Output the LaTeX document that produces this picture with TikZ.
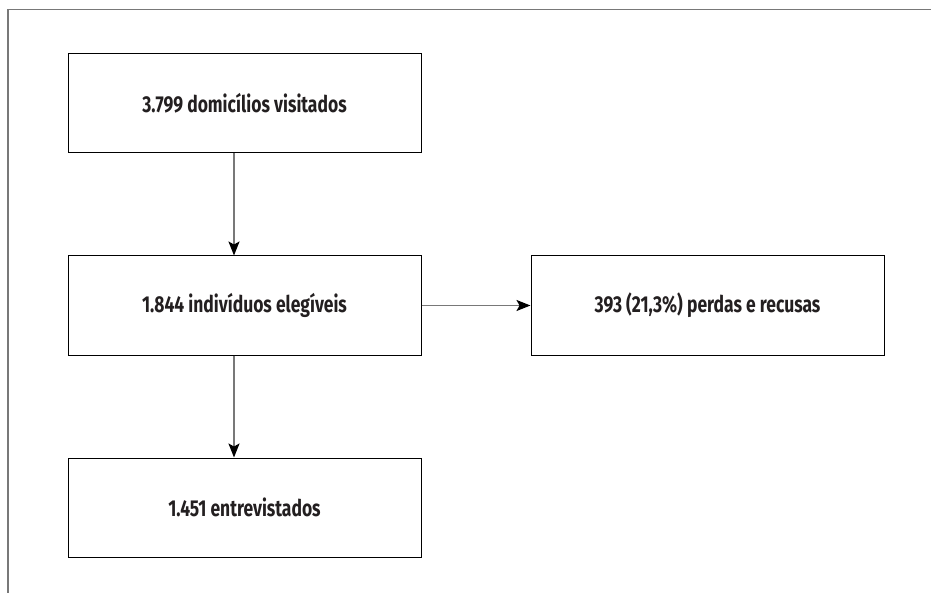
\documentclass[tikz,border=0pt]{standalone}
\usepackage{fontspec}
\setmainfont{Fira Sans}[FakeStretch=0.76]
\usepackage{tikz}
\usetikzlibrary{arrows.meta, positioning}
\definecolor{framegray}{RGB}{120,120,120}
\definecolor{textdark}{RGB}{35,31,32}

\begin{document}
\begin{tikzpicture}[
        node distance=102pt,
        flowbox/.style={draw=black, line width=1pt, align=center, minimum width=353pt, minimum height=99pt, font=\fontsize{23}{27}\selectfont\bfseries, text=textdark},
        arrow/.style={-{Stealth[length=14pt, width=11pt, inset=3pt, color=black]}, draw=framegray, line width=1.4pt}
    ]
        \useasboundingbox (0,0) rectangle (931pt,-593pt);
        % moldura do quadro
        \draw[framegray, line width=1.4pt] (931pt,-9.5pt) -- (8pt,-9.5pt) -- (8pt,-593pt);

        \node[flowbox] (visited) at (244.5pt,-103.5pt) {3.799 domicílios visitados};
        \node[flowbox, below=of visited] (eligible) {1.844 indivíduos elegíveis};
        \node[flowbox, right=109pt of eligible] (losses) {393 (21,3\%) perdas e recusas};
        \node[flowbox, below=of eligible] (interviewed) {1.451 entrevistados};

        % setas deslocadas um pouco para a esquerda do centro
        \draw[arrow] ([xshift=-10.5pt]visited.south) -- ([xshift=-10.5pt]eligible.north);
        \draw[arrow] (eligible) -- (losses);
        \draw[arrow] ([xshift=-10.5pt]eligible.south) -- ([xshift=-10.5pt]interviewed.north);
    \end{tikzpicture}
\end{document}
